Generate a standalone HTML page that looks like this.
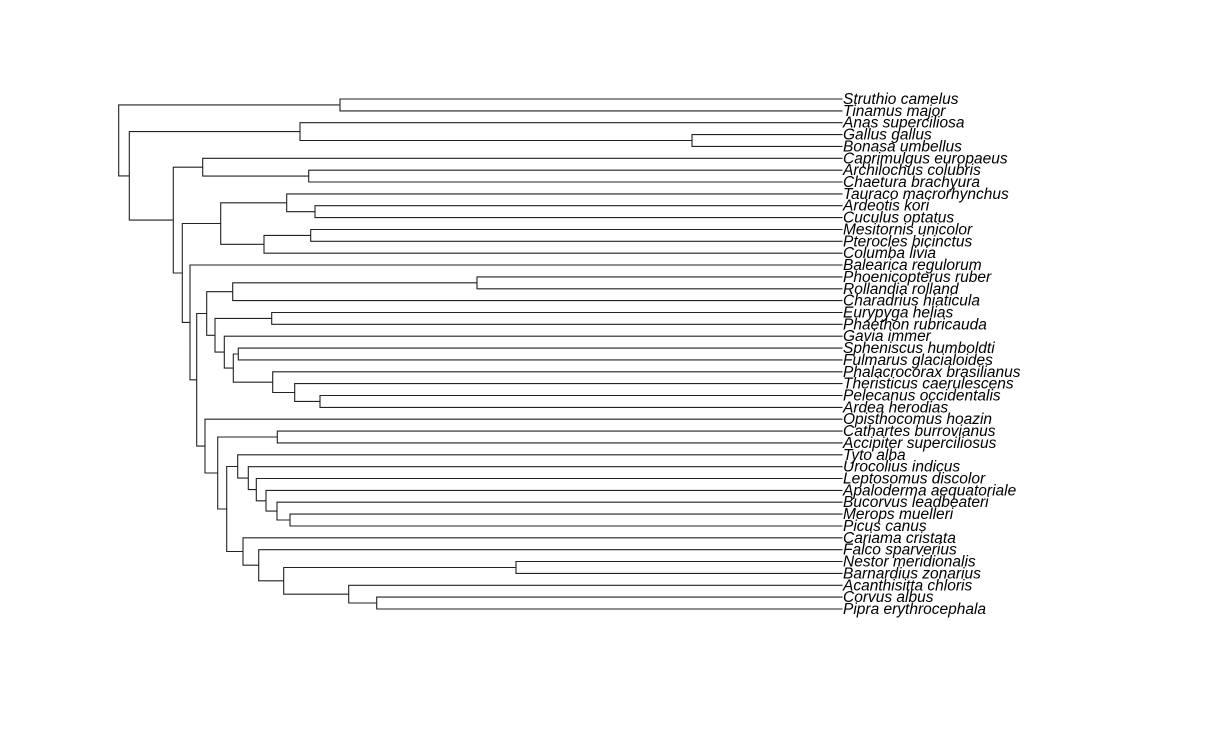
<!DOCTYPE html>
<html><head><meta charset="utf-8"><style>
html,body{margin:0;padding:0;background:#fff;}
svg text{font-family:"Liberation Sans",Arial,sans-serif;font-style:italic;font-size:15.5px;fill:#000;}
</style></head><body>
<svg id="s" width="1209" height="728" xmlns="http://www.w3.org/2000/svg"></svg>
<script>
var names=["Struthio camelus","Tinamus major","Anas superciliosa","Gallus gallus","Bonasa umbellus","Caprimulgus europaeus","Archilochus colubris","Chaetura brachyura","Tauraco macrorhynchus","Ardeotis kori","Cuculus optatus","Mesitornis unicolor","Pterocles bicinctus","Columba livia","Balearica regulorum","Phoenicopterus ruber","Rollandia rolland","Charadrius hiaticula","Eurypyga helias","Phaethon rubricauda","Gavia immer","Spheniscus humboldti","Fulmarus glacialoides","Phalacrocorax brasilianus","Theristicus caerulescens","Pelecanus occidentalis","Ardea herodias","Opisthocomus hoazin","Cathartes burrovianus","Accipiter superciliosus","Tyto alba","Urocolius indicus","Leptosomus discolor","Apaloderma aequatoriale","Bucorvus leadbeateri","Merops muelleri","Picus canus","Cariama cristata","Falco sparverius","Nestor meridionalis","Barnardius zonarius","Acanthisitta chloris","Corvus albus","Pipra erythrocephala"];
var TX=842;
function ty(i){return 99+(i-1)*11.86;}
var tree=[118.7,[340,1,2],[129.3,[300,3,[692,4,5]],[173.3,[202.7,6,[308.7,7,8]],[182.3,[220.7,[286.7,9,[315,10,11]],[264,[310.7,12,13],14]],[190,15,[196.7,[206.7,[232.7,[477,16,17],18],[215,[271.7,19,20],[224.3,21,[233.3,[238.3,22,23],[272.7,24,[294.7,25,[320,26,27]]]]]]],[205,28,[217.7,[277.3,29,30],[226.7,[237.7,31,[248.3,32,[256.3,33,[266,34,[277,35,[290,36,37]]]]]],[243,38,[258.7,39,[283.7,[516,40,41],[348.7,42,[376.7,43,44]]]]]]]]]]]]]];
var d="";
function L(x1,y1,x2,y2){d+="M"+x1.toFixed(1)+" "+y1.toFixed(1)+"L"+x2.toFixed(1)+" "+y2.toFixed(1);}
function walk(n){
 if(typeof n==="number"){return {x:TX,y:ty(n)};}
 var a=walk(n[1]),b=walk(n[2]);var x=n[0];
 L(x,a.y,x,b.y);L(x,a.y,a.x,a.y);L(x,b.y,b.x,b.y);
 return {x:x,y:(a.y+b.y)/2};
}
walk(tree);
var s='<path d="'+d+'" stroke="#222" stroke-width="1.1" fill="none" stroke-linecap="square"/>';
for(var i=0;i<names.length;i++){s+='<text x="843" y="'+(ty(i+1)+5).toFixed(1)+'">'+names[i]+'</text>';}
document.getElementById("s").innerHTML=s;
</script>
</body></html>
